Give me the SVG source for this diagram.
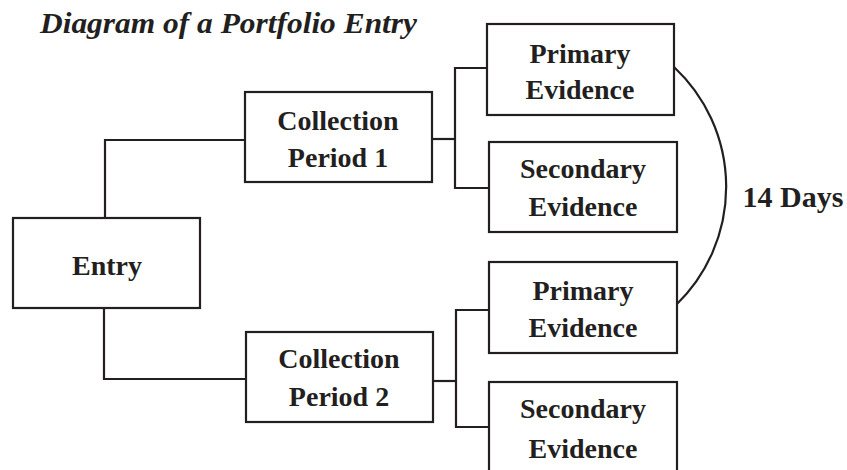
<svg xmlns="http://www.w3.org/2000/svg" width="847" height="470" viewBox="0 0 847 470">
<style>
rect.box{fill:#fff;stroke:#231f20;stroke-width:2.2}
.conn{fill:none;stroke:#231f20;stroke-width:2.2}
text{font-family:"Liberation Serif",serif;font-weight:bold;fill:#231f20;font-size:28px;text-anchor:middle}
.title{font-style:italic;font-size:30px;text-anchor:start}
</style>
<rect width="847" height="470" fill="#fff"/>
<text class="title" x="40" y="33" textLength="377" lengthAdjust="spacingAndGlyphs">Diagram of a Portfolio Entry</text>
<g id="connectors">
<polyline class="conn" points="245,140 105,140 105,218"/>
<polyline class="conn" points="104,308 104,379 246,379"/>
<polyline class="conn" points="432,139 455,139"/>
<polyline class="conn" points="487,68 455,68 455,188 489,188"/>
<polyline class="conn" points="433,381 456,381"/>
<polyline class="conn" points="489,310 456,310 456,427 489,427"/>
<path class="conn" d="M674,67 A164,164 0 0 1 676,305"/>
</g>
<g id="entry">
<rect class="box" x="13" y="218" width="187" height="90"/>
<text x="107" y="275">Entry</text>
</g>
<g id="cp1">
<rect class="box" x="245" y="92" width="187" height="90"/>
<text x="338" y="130">Collection</text>
<text x="338" y="167">Period 1</text>
</g>
<g id="cp2">
<rect class="box" x="246" y="332" width="187" height="90"/>
<text x="339" y="368">Collection</text>
<text x="339" y="406">Period 2</text>
</g>
<g id="pe1">
<rect class="box" x="487" y="24" width="187" height="91"/>
<text x="580" y="63">Primary</text>
<text x="580" y="99">Evidence</text>
</g>
<g id="se1">
<rect class="box" x="489" y="142" width="188" height="90"/>
<text x="583" y="178">Secondary</text>
<text x="583" y="216">Evidence</text>
</g>
<g id="pe2">
<rect class="box" x="489" y="262" width="188" height="91"/>
<text x="583" y="300">Primary</text>
<text x="583" y="337">Evidence</text>
</g>
<g id="se2">
<rect class="box" x="489" y="382" width="188" height="92"/>
<text x="583" y="418">Secondary</text>
<text x="583" y="458">Evidence</text>
</g>
<g id="label14">
<text x="793" y="207" style="font-size:30px">14 Days</text>
</g>
</svg>
